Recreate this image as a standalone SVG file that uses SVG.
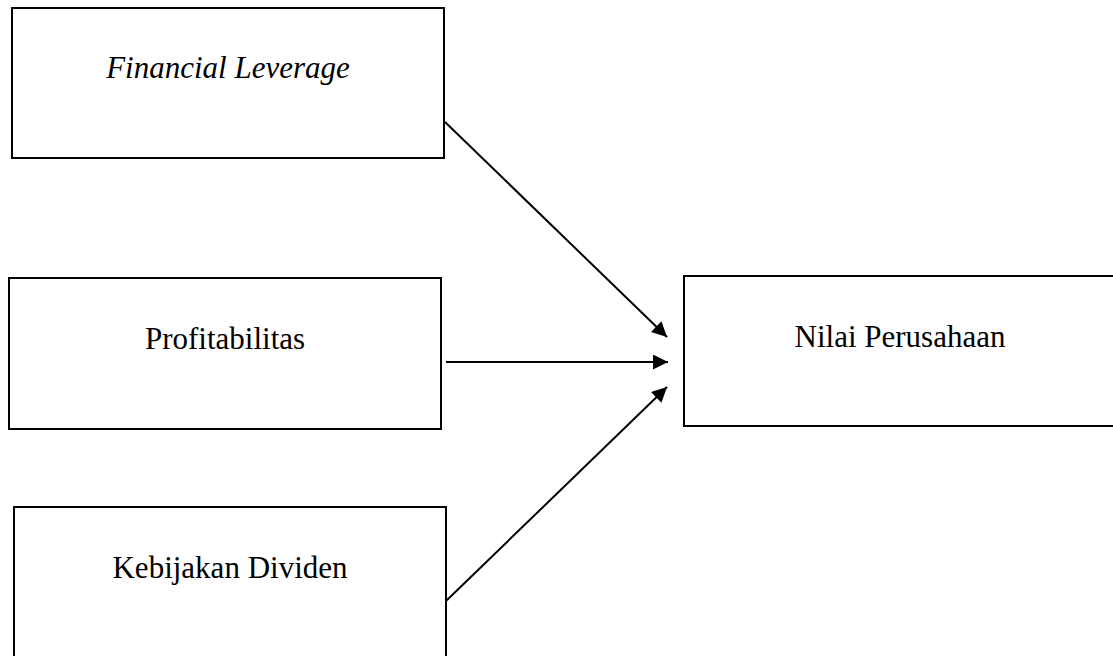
<svg xmlns="http://www.w3.org/2000/svg" width="1113" height="656" viewBox="0 0 1113 656">
<style>
.box{fill:#fff;stroke:#000;stroke-width:2}
.lbl{font-family:"Liberation Serif","Times New Roman",serif;font-size:31px;fill:#000;text-anchor:middle}
.conn{stroke:#000;stroke-width:2;fill:none;marker-end:url(#ah)}
</style>
<defs>
<marker id="ah" viewBox="0 0 10 10" refX="10" refY="5" markerUnits="userSpaceOnUse" markerWidth="16" markerHeight="15" orient="auto">
<path d="M0,0 L10,5 L0,10 z" fill="#000"/>
</marker>
</defs>
<rect width="1113" height="656" fill="#fff"/>
<g id="financial-leverage">
<rect class="box" x="12" y="8" width="432" height="150"/>
<text class="lbl" x="228" y="78" font-style="italic">Financial Leverage</text>
</g>
<g id="profitabilitas">
<rect class="box" x="9" y="278" width="432" height="151"/>
<text class="lbl" x="225" y="349">Profitabilitas</text>
</g>
<g id="kebijakan-dividen">
<rect class="box" x="14" y="507" width="432" height="160"/>
<text class="lbl" x="230" y="578">Kebijakan Dividen</text>
</g>
<g id="nilai-perusahaan">
<rect class="box" x="684" y="276" width="440" height="150"/>
<text class="lbl" x="900" y="347">Nilai Perusahaan</text>
</g>
<g id="connectors">
<line class="conn" x1="445" y1="122" x2="667" y2="337"/>
<line class="conn" x1="446" y1="362" x2="668" y2="362"/>
<line class="conn" x1="446" y1="601" x2="667" y2="387"/>
</g>
</svg>
